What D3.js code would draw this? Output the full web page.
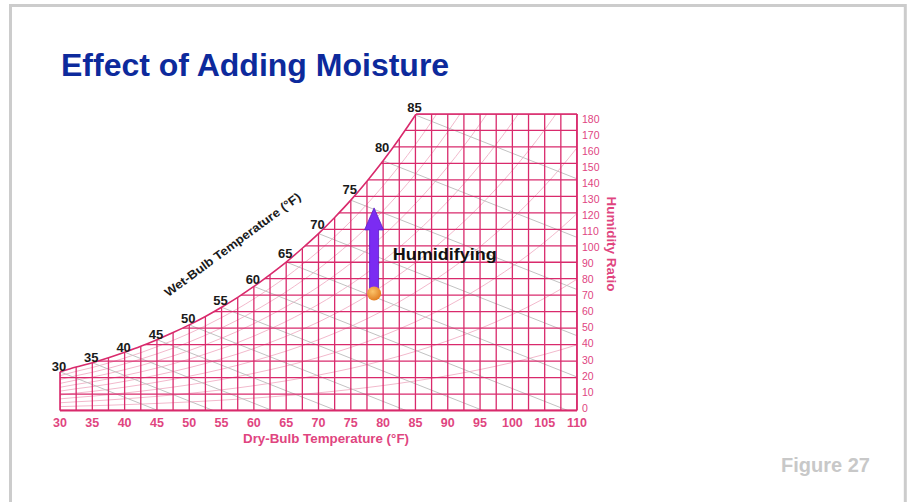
<!DOCTYPE html>
<html>
<head>
<meta charset="utf-8">
<script src="https://cdn.jsdelivr.net/npm/d3@7"></script>
<style>
  html, body { margin: 0; padding: 0; background: #ffffff; }
  svg { display: block; }
</style>
</head>
<body>
<svg id="chart" width="907" height="502"></svg>
<script>
// ---------------- data ----------------
const dryBulbTicks = [30,35,40,45,50,55,60,65,70,75,80,85,90,95,100,105,110];
const humidityTicks = [0,10,20,30,40,50,60,70,80,90,100,110,120,130,140,150,160,170,180];
const wetBulbLabels = [30,35,40,45,50,55,60,65,70,75,80,85];
// saturation curve (dry-bulb °F -> grains of moisture / lb dry air)
const satTemp = [30,32.5,35,37.5,40,42.5,45,47.5,50,52.5,55,57.5,60,62.5,65,67.5,70,72.5,75,77.5,80,82.5,85,87.5,90,92.5,95,97.5,100,102.5,105,107.5,110];
const satW    = [23.5,26.4,29,32,35.4,39,43,47.3,52,57.1,62.7,68.7,75.3,82.5,90.1,98.5,107.4,117.2,127.7,139.2,151.6,165,179.4,194.9,211.5,229.4,248.6,269.4,291.5,315.3,341,368.6,398.7];
const rhLevels = [10,20,30,40,50,60,70,80,90];
// humidifying process
const processTemp = [78.6];
const processStartW = [71];
const processEndW = [123];

// ---------------- drawing ----------------
const svg = d3.select("#chart");
const pink = "#d92a6c";
const pinkText = "#e0457f";

svg.append("rect").attr("x",10.5).attr("y",5.5).attr("width",894.8).attr("height",520)
  .attr("fill","none").attr("stroke","#cccccc").attr("stroke-width",3);

svg.append("text").attr("x",61).attr("y",76)
  .attr("font-family","Liberation Sans, Arial, sans-serif").attr("font-weight","bold")
  .attr("font-size",32).attr("fill","#0d2a9c").text("Effect of Adding Moisture");

svg.append("text").attr("x",781).attr("y",472)
  .attr("font-family","Liberation Sans, Arial, sans-serif").attr("font-weight","bold")
  .attr("font-size",20).attr("fill","#c8c8c8").text("Figure 27");

const x = d3.scaleLinear().domain([30,110]).range([60,577]);
const y = d3.scaleLinear().domain([0,180]).range([410.5,114]);
const yLab = d3.scaleLinear().domain([0,180]).range([408,119]);
const satAt = d3.scaleLinear().domain(satTemp).range(satW);
const satInv = d3.scaleLinear().domain(satW).range(satTemp);

const satPts = satTemp.map((t,i)=>[t,satW[i]]);

// clip: region under saturation curve and inside plot rect
const defs = svg.append("defs");
defs.append("clipPath").attr("id","underSat").append("path")
  .attr("d", d3.area().x(d=>x(d[0])).y0(y(0)).y1(d=>y(d[1])).curve(d3.curveMonotoneX)(satPts));
defs.append("clipPath").attr("id","plotRect").append("rect")
  .attr("x",x(30)).attr("y",y(180)).attr("width",x(110)-x(30)).attr("height",y(0)-y(180));

const g = svg.append("g").attr("clip-path","url(#plotRect)")
  .append("g").attr("clip-path","url(#underSat)");

// relative humidity curves
const line = d3.line().x(d=>x(d[0])).y(d=>y(d[1])).curve(d3.curveMonotoneX);
rhLevels.forEach(rh=>{
  g.append("path").attr("d", line(satPts.map(p=>[p[0], p[1]*rh/100])))
    .attr("fill","none").attr("stroke","#f2b9cc").attr("stroke-width",1);
});

// wet-bulb lines
const wbSlope = 1.55;
wetBulbLabels.forEach(t=>{
  const w = satAt(t);
  g.append("line").attr("x1",x(t)).attr("y1",y(w))
    .attr("x2",x(t + w/wbSlope)).attr("y2",y(0))
    .attr("stroke","#c2c2c2").attr("stroke-width",1);
});

// vertical grid (dry bulb)
d3.range(30,110.001,2.5).forEach(t=>{
  g.append("line").attr("x1",x(t)).attr("x2",x(t)).attr("y1",y(0)).attr("y2",y(Math.min(180,satAt(t))))
    .attr("stroke",pink).attr("stroke-width",1.3);
});
// horizontal grid (humidity ratio)
humidityTicks.forEach(w=>{
  const t0 = w <= satW[0] ? 30 : satInv(w);
  g.append("line").attr("x1",x(t0)).attr("x2",x(110)).attr("y1",y(w)).attr("y2",y(w))
    .attr("stroke",pink).attr("stroke-width",1.3);
});

// outer border: saturation curve + right + bottom + top
const outer = svg.append("g").attr("clip-path","url(#plotRect)");
outer.append("path").attr("d", line(satPts)).attr("fill","none").attr("stroke",pink).attr("stroke-width",1.6);
svg.append("line").attr("x1",x(satInv(180))).attr("x2",x(110)).attr("y1",y(180)).attr("y2",y(180)).attr("stroke",pink).attr("stroke-width",1.6);
svg.append("line").attr("x1",x(110)).attr("x2",x(110)).attr("y1",y(180)).attr("y2",y(0)).attr("stroke",pink).attr("stroke-width",1.8);
svg.append("line").attr("x1",x(30)).attr("x2",x(110)).attr("y1",y(0)).attr("y2",y(0)).attr("stroke",pink).attr("stroke-width",2.2);
svg.append("line").attr("x1",x(30)).attr("x2",x(30)).attr("y1",y(0)).attr("y2",y(satW[0])).attr("stroke",pink).attr("stroke-width",1.6);

// axes labels
const font = "Liberation Sans, Arial, sans-serif";
svg.append("g").selectAll("text").data(dryBulbTicks).join("text")
  .attr("x",d=>x(d)).attr("y",426.5).attr("text-anchor","middle")
  .attr("font-family",font).attr("font-weight","bold").attr("font-size",12.5)
  .attr("fill",pinkText).text(d=>d);
svg.append("g").selectAll("text").data(humidityTicks).join("text")
  .attr("x",582).attr("y",d=>yLab(d)+3.7)
  .attr("font-family",font).attr("font-size",10.5)
  .attr("fill",pinkText).text(d=>d);

svg.append("text").attr("x",326).attr("y",443).attr("text-anchor","middle")
  .attr("font-family",font).attr("font-weight","bold").attr("font-size",12)
  .attr("textLength",166).attr("lengthAdjust","spacingAndGlyphs")
  .attr("fill",pinkText).text("Dry-Bulb Temperature (°F)");

svg.append("text").attr("transform","translate(607,244) rotate(90)").attr("text-anchor","middle")
  .attr("font-family",font).attr("font-weight","bold").attr("font-size",12)
  .attr("textLength",95).attr("lengthAdjust","spacingAndGlyphs")
  .attr("fill",pinkText).text("Humidity Ratio");

// wet bulb labels (placed just above-left of the saturation curve)
svg.append("g").selectAll("text").data(wetBulbLabels).join("text")
  .attr("x",d=>x(d)-1).attr("y",d=>{
      const w = satAt(d);
      if (w >= 175) return y(180) - 6.3 + 4.6;
      const s = (satAt(d+1)-satAt(d-1))/2*(y(0)-y(1))/(x(1)-x(0)); // pixel slope
      return y(w) - (4 + 6*Math.pow(s,1.5)) + 4.6;
  }).attr("text-anchor","middle")
  .attr("font-family",font).attr("font-weight","bold").attr("font-size",13)
  .attr("fill","#1a1a1a").text(d=>d);

svg.append("text").attr("transform","translate(235,248) rotate(-36.4)").attr("text-anchor","middle")
  .attr("font-family",font).attr("font-weight","bold").attr("font-size",12)
  .attr("textLength",166).attr("lengthAdjust","spacingAndGlyphs")
  .attr("fill","#1a1a1a").text("Wet-Bulb Temperature (°F)");

// process arrow
const grad = defs.append("radialGradient").attr("id","dotGrad").attr("cx","40%").attr("cy","35%").attr("r","65%");
grad.append("stop").attr("offset","0%").attr("stop-color","#fbc36a");
grad.append("stop").attr("offset","100%").attr("stop-color","#e27f22");

const ax = x(processTemp[0]), ay0 = y(processStartW[0]), ay1 = y(processEndW[0]);
const sw = 4.5, hw = 9.5, hl = 22;
svg.append("path")
  .attr("d",`M${ax-sw},${ay0} L${ax-sw},${ay1+hl} L${ax-hw},${ay1+hl} L${ax},${ay1} L${ax+hw},${ay1+hl} L${ax+sw},${ay1+hl} L${ax+sw},${ay0} Z`)
  .attr("fill","#7b2cf2").attr("stroke","#5a1bc4").attr("stroke-width",0.8);
svg.append("circle").attr("cx",ax).attr("cy",ay0).attr("r",7).attr("fill","url(#dotGrad)");

svg.append("text").attr("x",392.7).attr("y",260)
  .attr("font-family",font).attr("font-weight","bold").attr("font-size",17)
  .attr("textLength",104).attr("lengthAdjust","spacingAndGlyphs")
  .attr("fill","#111").text("Humidifying");
</script>
</body>
</html>
